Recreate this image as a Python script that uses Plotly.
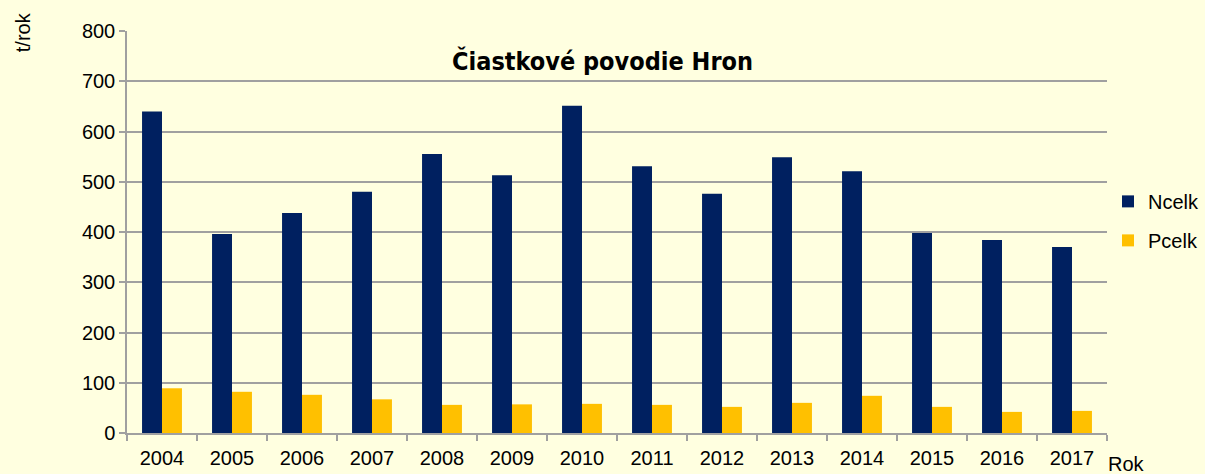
import plotly.graph_objects as go

years = ["2004", "2005", "2006", "2007", "2008", "2009", "2010",
         "2011", "2012", "2013", "2014", "2015", "2016", "2017"]
ncelk = [640, 396, 438, 480, 555, 513, 651, 531, 476, 549, 521, 398, 384, 370]
pcelk = [89, 82, 76, 67, 56, 57, 58, 56, 52, 60, 74, 52, 42, 44]

title_text = "Čiastkové povodie Hron"
y_title = "t/rok"
x_title = "Rok"

BG = "#FFFFE0"
GRID = "#A0A0A0"
FONT = "Liberation Sans, Arial, sans-serif"

fig = go.Figure()
fig.add_trace(go.Bar(x=years, y=ncelk, name="Ncelk", marker_color="#002060",
                     marker_line_width=0, legendgroup="n"))
fig.add_trace(go.Bar(x=years, y=pcelk, name="Pcelk", marker_color="#FFC000",
                     marker_line_width=0, legendgroup="p"))

fig.update_layout(
    width=1205, height=474, autosize=False,
    paper_bgcolor=BG, plot_bgcolor=BG,
    margin=dict(l=127, r=98, t=31, b=41),
    barmode="group", bargap=0.43, bargroupgap=0,
    font=dict(family=FONT, size=20, color="#000000"),
    showlegend=True,
    legend=dict(xref="container", yref="container", x=1.003, xanchor="right",
                y=0.534, yanchor="middle",
                bgcolor="rgba(0,0,0,0)", borderwidth=0, font=dict(size=20),
                itemwidth=30, traceorder="grouped", tracegroupgap=10),
    xaxis=dict(type="category", showgrid=False, showline=True, linecolor=GRID,
               linewidth=1.5, ticks="outside", tickson="boundaries", ticklen=6,
               tickcolor=GRID, tickwidth=1.5, tickfont=dict(size=20),
               ticklabelstandoff=6, automargin=False),
    yaxis=dict(range=[0, 800], dtick=100, showgrid=True, gridcolor=GRID,
               gridwidth=1.5, showline=True, linecolor=GRID, linewidth=1.5,
               ticks="outside", ticklen=6, tickcolor=GRID, tickwidth=1.5,
               tickfont=dict(size=20), zeroline=False, automargin=False),
)

fig.add_annotation(text=title_text, xref="paper", yref="paper", x=0.4847, y=0.925,
                   xanchor="center", yanchor="middle", showarrow=False,
                   font=dict(family="DejaVu Sans Condensed, Liberation Sans Narrow, sans-serif",
                             size=25, color="#000000", weight="bold"))
fig.add_annotation(text=y_title, xref="paper", yref="paper", x=-0.1067, y=0.998,
                   xanchor="center", yanchor="middle", showarrow=False, textangle=-90,
                   font=dict(size=20))
fig.add_annotation(text=x_title, xref="paper", yref="paper", x=0.999, y=-0.077,
                   xanchor="left", yanchor="middle", showarrow=False,
                   font=dict(size=20))

fig.write_html("out.html",
               config={"displayModeBar": False, "responsive": False},
               post_script="document.body.style.margin='0px';document.body.style.background='#FFFFE0';")
